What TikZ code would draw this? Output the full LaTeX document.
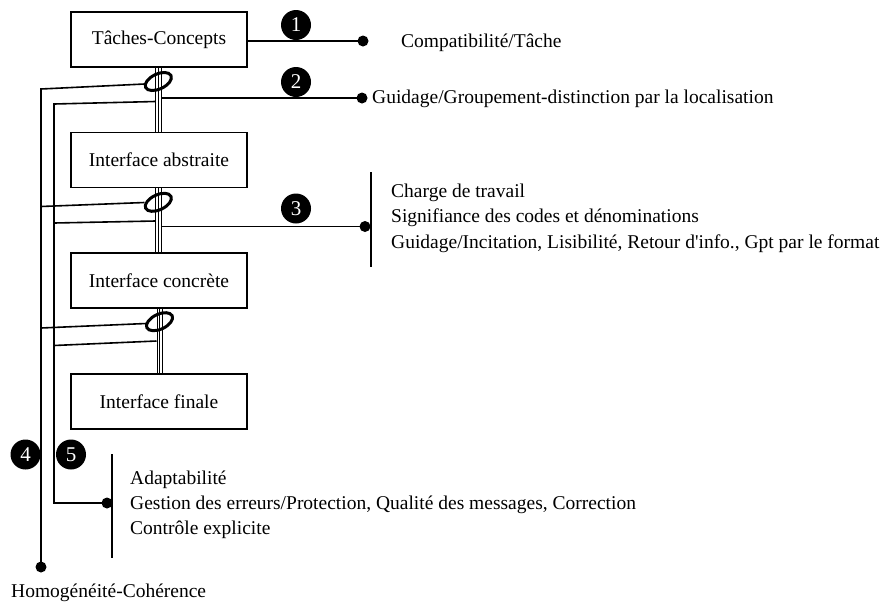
\documentclass[tikz,border=0pt]{standalone}
\usepackage{fontspec}
\setmainfont{Liberation Serif}
\newfontfamily\plainserif{Liberation Serif}
\begin{document}
\begin{tikzpicture}[x=1pt,y=-1pt,
  box/.style={draw, line width=1.5pt, minimum width=176pt, minimum height=55pt, inner sep=0pt, font=\fontsize{19.5}{24}\selectfont},
  lbl/.style={anchor=base west, inner sep=0pt, font=\fontsize{19.5}{24}\selectfont},
  num/.style={circle, fill=black, text=white, minimum size=30pt, inner sep=0pt, font=\fontsize{21}{21}\selectfont},
  ln/.style={line width=1.6pt},
  tri/.style={line width=1.1pt},
  ell/.style={line width=3pt},
  dot/.style={circle, fill=black, minimum size=11pt, inner sep=0pt},
]
\useasboundingbox (0,0) rectangle (891,606);
% boxes
\node[box] (tc) at (159,39.5) {Tâches-Concepts};
\node[box] (ia) at (159,160) {Interface abstraite};
\node[box] (ic) at (159,280.5) {Interface concrète};
\node[box] (if) at (159,401.5) {Interface finale};
% triple links
\foreach \dx in {-3.2,-0.5,2.2} {
  \draw[tri] ([xshift=\dx pt]tc.south) -- ([xshift=\dx pt]ia.north);
  \draw[tri] ([xshift=\dx pt]ia.south) -- ([xshift=\dx pt]ic.north);
}
\foreach \dx in {-1.8,0.9,3.6} {
  \draw[tri] ([xshift=\dx pt]ic.south) -- ([xshift=\dx pt]if.north);
}
% ellipses
\coordinate (e1) at (158.3,81.5);
\coordinate (e2) at (158.3,202.3);
\coordinate (e3) at (159.5,321.7);
% end dots
\node[dot] (d1) at (363,41) {};
\node[dot] (d2) at (362,98) {};
\node[dot] (d3) at (365,226.5) {};
\node[dot] (d4) at (41,567) {};
\node[dot] (d5) at (107,503) {};
% line 4 (homogeneite)
\coordinate (h4a) at (41,89);
\coordinate (e1w) at (144.5,84);
\coordinate (h4b) at (41,206.5);
\coordinate (e2w) at (144.5,202.5);
\coordinate (h4c) at (41,328);
\coordinate (e3w) at (146,323.5);
\draw[ln] (e1w) -- (h4a) -- (d4.center);
\draw[ln] (h4b) -- (e2w);
\draw[ln] (h4c) -- (e3w);
% line 5
\coordinate (h5a) at (54,104);
\coordinate (t1a) at (155.5,101.5);
\coordinate (h5b) at (54,223);
\coordinate (t2a) at (155.5,221);
\coordinate (h5c) at (54,345.5);
\coordinate (t3a) at (156.5,341);
\coordinate (c5) at (54,503);
\draw[ln] (t1a) -- (h5a) -- (c5) -- (d5.center);
\draw[ln] (h5b) -- (t2a);
\draw[ln] (h5c) -- (t3a);
% right links
\draw[ln] (tc.east |- d1) -- (d1.center);
\coordinate (s2) at (161.5,98);
\coordinate (s3) at (161.5,226.5);
\draw[ln] (s2) -- (d2.center);
\draw[ln] (s3) -- (d3.center);
% ellipses drawn over
\draw[ell, rotate around={25:(e1)}] (e1) ellipse [x radius=14, y radius=7.5];
\draw[ell, rotate around={25:(e2)}] (e2) ellipse [x radius=14, y radius=7.5];
\draw[ell, rotate around={25:(e3)}] (e3) ellipse [x radius=14, y radius=7.5];
% bars
\coordinate (b3t) at (371,172);
\coordinate (b3b) at (371,267);
\draw[ln] (b3t) -- (b3b);
\coordinate (b5t) at (112,454);
\coordinate (b5b) at (112,558);
\draw[ln] (b5t) -- (b5b);
% numbers
\node[num] (n1) at (296,25) {1};
\node[num] (n2) at (296,82) {2};
\node[num] (n3) at (296,208.5) {3};
\node[num] (n4) at (25.5,454.5) {4};
\node[num] (n5) at (71,454.5) {5};
% labels
\node[lbl] (l1) at (401,47) {Compatibilité/Tâche};
\node[lbl] (l2) at (372,103.5) {Guidage/Groupement-distinction par la localisation};
\node[lbl] (l3a) at (391,197) {Charge de travail};
\node[lbl] (l3b) at (391,222.5) {Signifiance des codes et dénominations};
\node[lbl] (l3c) at (391,248) {Guidage/Incitation, Lisibilité, Retour d{\plainserif '}info., Gpt par le format};
\node[lbl] (l5a) at (130,484) {Adaptabilité};
\node[lbl] (l5b) at (130,509) {Gestion des erreurs/Protection, Qualité des messages, Correction};
\node[lbl] (l5c) at (130,534) {Contrôle explicite};
\node[lbl] (l4) at (11,597) {Homogénéité-Cohérence};
\end{tikzpicture}
\end{document}
